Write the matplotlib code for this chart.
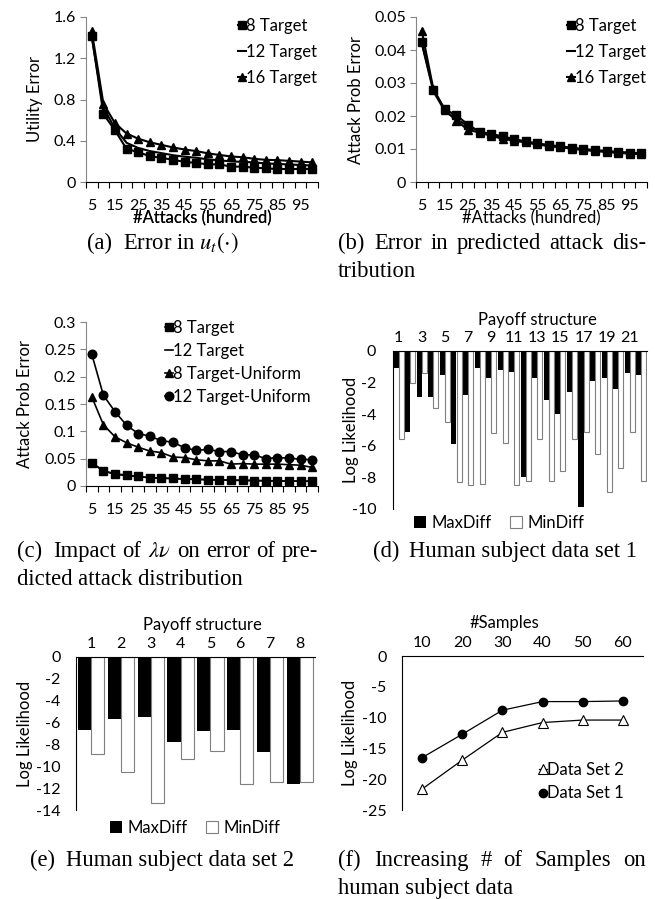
import numpy as np
import matplotlib
matplotlib.use('Agg')
import matplotlib.pyplot as plt

plt.rcParams['font.family'] = ['Lato', 'DejaVu Sans']
plt.rcParams['mathtext.fontset'] = 'stix'

# ---- data ----
attacks = [5, 10, 15, 20, 25, 30, 35, 40, 45, 50, 55, 60, 65, 70, 75, 80, 85, 90, 95, 100]

# (a) utility error
ut_8 = [1.42, 0.66, 0.50, 0.32, 0.29, 0.25, 0.235, 0.215, 0.195, 0.185,
        0.171, 0.171, 0.149, 0.149, 0.139, 0.132, 0.126, 0.126, 0.126, 0.126]
ut_12 = [1.40, 0.72, 0.52, 0.38, 0.33, 0.30, 0.28, 0.26, 0.245, 0.235,
         0.22, 0.21, 0.20, 0.195, 0.19, 0.18, 0.175, 0.17, 0.165, 0.16]
ut_16 = [1.46, 0.76, 0.57, 0.47, 0.42, 0.385, 0.36, 0.335, 0.315, 0.30,
         0.278, 0.262, 0.248, 0.24, 0.225, 0.215, 0.212, 0.205, 0.198, 0.19]

# (b) attack prob error
ap_8 = [0.0423, 0.028, 0.022, 0.0202, 0.0174, 0.0152, 0.0146, 0.0138, 0.013, 0.0123,
        0.0117, 0.0112, 0.0108, 0.0104, 0.0100, 0.0097, 0.0094, 0.0091, 0.0089, 0.0087]
ap_12 = [0.042, 0.0275, 0.0215, 0.019, 0.017, 0.0153, 0.0143, 0.0134, 0.0127, 0.0121,
         0.0115, 0.011, 0.0106, 0.0102, 0.0098, 0.0095, 0.0092, 0.009, 0.0088, 0.0086]
ap_16 = [0.0458, 0.0282, 0.0218, 0.0186, 0.0158, 0.015, 0.014, 0.0131, 0.0125, 0.012,
         0.0114, 0.0109, 0.0105, 0.0101, 0.0097, 0.0094, 0.0091, 0.0088, 0.0086, 0.0084]

# (c) uniform lambda-nu
ap_8u = [0.163, 0.112, 0.090, 0.079, 0.071, 0.064, 0.061, 0.053, 0.052, 0.048,
         0.046, 0.046, 0.040, 0.041, 0.040, 0.040, 0.040, 0.039, 0.038, 0.034]
ap_12u = [0.241, 0.166, 0.136, 0.111, 0.096, 0.091, 0.083, 0.080, 0.070, 0.065,
          0.067, 0.063, 0.063, 0.057, 0.057, 0.050, 0.052, 0.051, 0.049, 0.048]

# (d) human subject data set 1
payoff1 = list(range(1, 23))
d_max = [-1.1, -5.1, -2.9, -2.9, -1.5, -5.9, -2.8, -1.1, -1.7, -1.2, -1.3,
         -8.0, -1.7, -3.1, -4.0, -2.6, -9.9, -1.9, -1.7, -2.4, -1.4, -1.5]
d_min = [-5.6, -2.0, -1.4, -3.6, -4.5, -8.3, -8.5, -8.4, -5.2, -5.8, -8.5,
         -8.2, -5.6, -8.2, -7.6, -5.6, -5.1, -6.5, -8.9, -7.4, -5.1, -8.2]

# (e) human subject data set 2
payoff2 = list(range(1, 9))
e_max = [-6.7, -5.7, -5.5, -7.8, -6.8, -6.7, -8.7, -11.6]
e_min = [-8.9, -10.5, -13.4, -9.3, -8.6, -11.6, -11.4, -11.4]

# (f) number of samples
samples = [10, 20, 30, 40, 50, 60]
f_ds1 = [-16.5, -12.7, -8.8, -7.4, -7.4, -7.3]
f_ds2 = [-21.6, -16.9, -12.4, -10.8, -10.4, -10.4]

# ---- layout helpers (pixel coords, origin top-left) ----
W, H = 655, 899
fig = plt.figure(figsize=(W / 100, H / 100), dpi=100)
GRAY = '#868686'
FS = 12     # labels / legends
TFS = 11.5  # tick labels


def box(l, t, r, b):
    return [l / W, 1 - b / H, (r - l) / W, (b - t) / H]


def fpt(px, py):
    return (px / W, 1 - py / H)


def line_axes(l, t, r, b, ymax, yticks, ylabels, ylabel, ylab_x):
    ax = fig.add_axes(box(l, t, r, b))
    ax.set_xlim(-0.5, len(attacks) - 0.5)
    ax.set_ylim(0, ymax)
    for s in ['top', 'right']:
        ax.spines[s].set_visible(False)
    ax.spines['left'].set_color(GRAY)
    ax.spines['bottom'].set_color('black')
    ax.set_xticks(range(0, len(attacks), 2))
    ax.set_xticklabels(attacks[::2])
    ax.set_xticks(np.arange(-0.5, len(attacks), 1), minor=True)
    ax.tick_params(axis='x', which='major', length=0, pad=12, labelsize=TFS)
    ax.tick_params(axis='x', which='minor', length=4, color='black', width=0.8)
    ax.set_yticks(yticks)
    ax.set_yticklabels(ylabels)
    ax.tick_params(axis='y', length=4, color=GRAY, pad=3, labelsize=TFS)
    ax.set_xlabel('#Attacks (hundred)', fontsize=FS)
    ax.xaxis.set_label_coords(0.5, (b - 210) / (b - t))
    ax.set_ylabel(ylabel, fontsize=FS)
    ax.yaxis.set_label_coords((ylab_x - l) / (r - l), 0.5)
    return ax


def legend_at(ax, px, py, spacing, **kw):
    return ax.legend(loc='upper left', bbox_to_anchor=fpt(px, py), bbox_transform=fig.transFigure,
                     frameon=False, borderpad=0, borderaxespad=0, handlelength=0.5,
                     handletextpad=0.0, labelspacing=spacing, fontsize=FS, **kw)


x20 = np.arange(len(attacks))

# (a)
ax = line_axes(86, 17, 318, 182, 1.6, [0, 0.4, 0.8, 1.2, 1.6], ['0', '0.4', '0.8', '1.2', '1.6'],
               'Utility Error', 43)
ax.plot(x20, ut_8, 'k-', marker='s', ms=5.8, lw=1.5, label='8 Target')
ax.plot(x20, ut_12, 'k-', lw=1.5, label='12 Target')
ax.plot(x20, ut_16, 'k-', marker='^', ms=6.2, lw=1.5, label='16 Target')
legend_at(ax, 238, 18, 0.6)

# (b)
ax = line_axes(416, 17, 647, 182, 0.05, [0, 0.01, 0.02, 0.03, 0.04, 0.05],
               ['0', '0.01', '0.02', '0.03', '0.04', '0.05'], 'Attack Prob Error', 364)
ax.plot(x20, ap_8, 'k-', marker='s', ms=5.8, lw=1.5, label='8 Target')
ax.plot(x20, ap_12, 'k-', lw=1.5, label='12 Target')
ax.plot(x20, ap_16, 'k-', marker='^', ms=6.2, lw=1.5, label='16 Target')
legend_at(ax, 567, 18, 0.6)

# (c)
ax = line_axes(86, 322, 318, 486, 0.3, [0, 0.05, 0.1, 0.15, 0.2, 0.25, 0.3],
               ['0', '0.05', '0.1', '0.15', '0.2', '0.25', '0.3'], 'Attack Prob Error', 33)
ax.plot(x20, ap_8, 'k-', marker='s', ms=5.8, lw=1.2, label='8 Target')
ax.plot(x20, ap_12, 'k-', lw=1.2, label='12 Target')
ax.plot(x20, ap_8u, 'k-', marker='^', ms=6.2, lw=1.2, label='8 Target-Uniform')
ax.plot(x20, ap_12u, 'k-', marker='o', ms=6.2, lw=1.2, label='12 Target-Uniform')
legend_at(ax, 165, 320, 0.42)


def top_axes(l, t, r, b, n, ymin, yticks, xlabel, xlab_x, xlab_y, ylab_x, ypad):
    ax = fig.add_axes(box(l, t, r, b))
    ax.set_xlim(-0.5, n - 0.5)
    ax.set_ylim(ymin, 0)
    for s in ['bottom', 'right']:
        ax.spines[s].set_visible(False)
    ax.spines['left'].set_color('black')
    ax.spines['top'].set_color('black')
    ax.xaxis.tick_top()
    ax.xaxis.set_label_position('top')
    ax.tick_params(axis='x', length=0, pad=4.5, labelsize=TFS)
    ax.set_yticks(yticks)
    ax.set_yticklabels([str(v) for v in yticks])
    ax.tick_params(axis='y', length=0, pad=ypad, labelsize=TFS)
    ax.set_xlabel(xlabel, fontsize=FS)
    # top label is anchored at its baseline
    ax.xaxis.set_label_coords((xlab_x - l) / (r - l), (b - xlab_y) / (b - t))
    ax.set_ylabel('Log Likelihood', fontsize=FS)
    ax.yaxis.set_label_coords((ylab_x - l) / (r - l), 0.5)
    return ax


def bar_pair(ax, cats, vmax, vmin, w):
    pos = np.arange(len(cats))
    ax.bar(pos - w / 2, vmax, w, color='black', label='MaxDiff')
    ax.bar(pos + w / 2, vmin, w, color='white', edgecolor='#7f7f7f', lw=0.8, label='MinDiff')


def bar_legend(ax, px, py):
    ax.legend(loc='upper left', bbox_to_anchor=fpt(px, py), bbox_transform=fig.transFigure,
              ncol=2, frameon=False, borderpad=0, borderaxespad=0, handlelength=0.7,
              handleheight=0.7, handletextpad=0.35, columnspacing=1.1, fontsize=FS)


# (d)
ax = top_axes(393, 351, 647, 509, len(payoff1), -10, [0, -2, -4, -6, -8, -10],
              'Payoff structure', 537, 325, 359, 12)
bar_pair(ax, payoff1, d_max, d_min, 0.44)
ax.set_xticks(range(0, len(payoff1), 2))
ax.set_xticklabels(payoff1[::2])
bar_legend(ax, 414, 515)

# (e)
ax = top_axes(76, 657, 315, 810, len(payoff2), -14, [0, -2, -4, -6, -8, -10, -12, -14],
              'Payoff structure', 202, 630, 33, 11)
bar_pair(ax, payoff2, e_max, e_min, 0.44)
ax.set_xticks(range(len(payoff2)))
ax.set_xticklabels(payoff2)
bar_legend(ax, 110, 820)

# (f)
ax = top_axes(402, 656, 643, 810, len(samples), -25, [0, -5, -10, -15, -20, -25],
              '#Samples', 504, 628, 358, 11)
xs = np.arange(len(samples))
ax.plot(xs, f_ds2, 'k-', lw=0.9, marker='^', ms=6.5, mfc='white', mec='black', mew=0.8,
        label='Data Set 2')
ax.plot(xs, f_ds1, 'k-', lw=0.9, marker='o', ms=6, label='Data Set 1')
ax.set_xticks(xs)
ax.set_xticklabels(samples)
legend_at(ax, 539, 762, 0.45)

# ---- captions (serif, LaTeX-like, first lines justified) ----
CFS = 16.3
cap = dict(fontsize=CFS, family='Liberation Serif', ha='left', va='baseline')
renderer = fig.canvas.get_renderer()
LGAP = 36  # label start to body start


def caption(x0, y, label, body, x1=None, center=None):
    lab = fig.text(*fpt(x0, y), label, **cap)
    if x1 is None:
        txt = fig.text(*fpt(x0 + LGAP, y), body, **cap)
        if center is not None:
            width = LGAP + txt.get_window_extent(renderer).width
            start = center - width / 2
            lab.set_position(fpt(start, y))
            txt.set_position(fpt(start + LGAP, y))
        return
    xb = x0 + LGAP
    words = body.split(' ')
    texts = [fig.text(*fpt(xb, y), w, **cap) for w in words]
    widths = [t.get_window_extent(renderer).width for t in texts]
    gap = (x1 - xb - sum(widths)) / (len(words) - 1)
    x = xb
    for t, w in zip(texts, widths):
        t.set_position(fpt(x, y))
        x += w + gap


caption(77, 249, '(a)', r'Error in $u_t(\cdot)$', center=163)
caption(338, 249, '(b)', 'Error in predicted attack dis-', 646)
fig.text(*fpt(338, 277), 'tribution', **cap)
caption(17, 557, '(c)', r'Impact of $\lambda\nu$ on error of pre-', 318)
fig.text(*fpt(17, 585), 'dicted attack distribution', **cap)
caption(367, 557, '(d)', 'Human subject data set 1', center=505)
caption(22, 866, '(e)', 'Human subject data set 2', center=162)
caption(338, 866, '(f)', 'Increasing # of Samples on', 646)
fig.text(*fpt(338, 894), 'human subject data', **cap)

fig.savefig('out.png', dpi=100)
